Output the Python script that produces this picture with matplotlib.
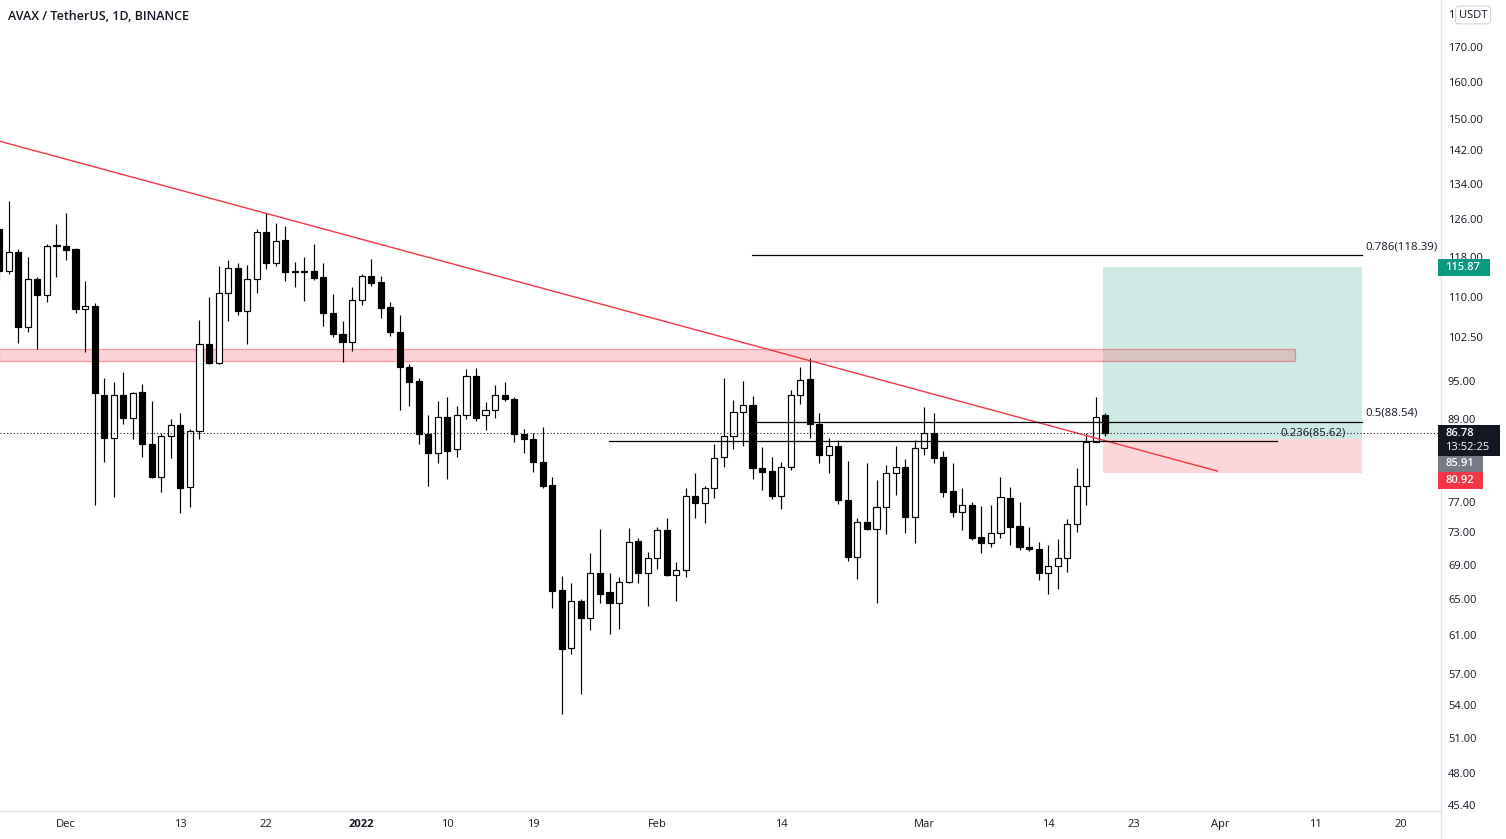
import numpy as np
import matplotlib
matplotlib.use('Agg')
import matplotlib.pyplot as plt
from matplotlib.ticker import FixedLocator, FixedFormatter, NullLocator
from matplotlib.patches import Rectangle
from matplotlib.lines import Line2D

plt.rcParams['font.family'] = ['Open Sans', 'DejaVu Sans']

# ---------------- data ----------------
first_day = '2021-11-24'
opens = [123.8, 115.1, 119.0, 104.3, 113.5, 110.3, 120.2, 120.2, 119.6, 107.7,
         108.3, 92.8, 86.1, 92.8, 89.1, 93.2, 85.2, 80.4, 86.3, 88.0,
         79.0, 87.1, 101.3, 98.1, 110.7, 115.7, 107.3, 113.5, 123.2, 116.7,
         121.5, 114.9, 115.0, 115.1, 113.9, 107.0, 103.2, 101.7, 109.4, 114.1,
         112.9, 108.1, 103.4, 97.4, 95.0, 86.6, 83.8, 89.3, 84.4, 89.6,
         95.9, 89.6, 90.3, 92.8, 92.1, 86.6, 85.9, 82.5, 79.3, 66.0,
         59.7, 64.8, 62.9, 68.0, 65.8, 64.6, 67.0, 71.9, 68.0, 69.8,
         73.3, 67.8, 68.4, 77.8, 76.8, 78.9, 83.3, 86.3, 90.0, 91.1,
         81.7, 81.3, 77.8, 81.8, 92.8, 95.4, 88.1, 83.5, 84.8, 77.2,
         69.9, 74.3, 73.4, 76.3, 81.0, 81.8, 75.0, 84.5, 86.8, 83.3,
         78.5, 75.6, 76.6, 72.4, 71.6, 72.9, 77.5, 73.8, 71.2, 70.9,
         68.0, 68.9, 69.8, 74.1, 79.2, 85.5, 89.6]
highs = [124.5, 130.0, 119.6, 117.9, 113.9, 120.6, 124.8, 127.4, 119.8, 113.1,
         108.8, 95.5, 94.9, 96.6, 93.2, 94.5, 91.7, 86.8, 89.0, 89.8,
         87.4, 105.7, 109.9, 116.1, 117.3, 116.7, 116.3, 123.8, 127.4, 125.1,
         124.4, 116.9, 117.9, 120.6, 116.7, 110.5, 105.4, 111.9, 114.5, 117.5,
         114.1, 109.0, 106.6, 97.9, 95.5, 89.6, 91.7, 92.4, 90.9, 97.1,
         97.2, 91.6, 94.4, 94.9, 92.4, 87.4, 86.8, 87.7, 80.4, 67.6,
         66.8, 65.0, 70.4, 73.4, 68.0, 67.5, 73.5, 72.3, 70.5, 73.7,
         74.8, 69.3, 78.8, 81.0, 79.2, 85.2, 95.5, 91.9, 95.0, 92.6,
         84.7, 83.3, 82.5, 93.5, 97.4, 98.9, 89.8, 86.1, 85.7, 82.7,
         74.8, 82.4, 80.0, 82.1, 84.8, 83.0, 85.7, 90.8, 89.8, 84.1,
         82.3, 78.8, 76.9, 76.4, 76.5, 80.4, 79.0, 76.9, 73.7, 71.8,
         71.4, 72.1, 74.7, 81.7, 86.8, 92.4, 89.9]
lows = [113.0, 114.4, 101.6, 103.4, 100.5, 109.0, 113.9, 117.3, 107.0, 99.9,
        76.6, 82.5, 77.6, 88.1, 85.9, 83.3, 80.3, 78.3, 83.1, 75.5,
        76.3, 85.9, 97.9, 97.9, 105.5, 106.6, 101.3, 110.7, 115.5, 116.1,
        113.1, 111.9, 109.2, 113.3, 104.5, 102.5, 98.2, 100.1, 108.4, 112.1,
        106.1, 102.8, 90.3, 90.9, 85.1, 79.2, 82.4, 80.1, 83.3, 89.0,
        88.6, 87.2, 89.1, 91.7, 85.4, 83.8, 81.1, 78.8, 64.0, 53.2,
        59.1, 55.1, 61.6, 64.5, 61.2, 61.7, 66.8, 66.8, 64.2, 68.5,
        67.6, 64.8, 67.5, 74.8, 74.2, 77.5, 81.8, 84.4, 84.8, 80.1,
        78.6, 77.4, 76.0, 81.4, 91.3, 86.1, 82.4, 81.0, 76.7, 69.4,
        67.3, 73.3, 64.5, 72.8, 77.9, 72.9, 71.6, 83.5, 82.4, 77.6,
        75.0, 73.3, 72.0, 70.4, 71.2, 72.3, 71.4, 70.8, 70.7, 67.2,
        65.6, 66.1, 68.1, 73.0, 76.6, 85.4, 86.3]
closes = [115.1, 119.0, 104.3, 113.5, 110.3, 120.2, 120.4, 119.4, 107.7, 108.3,
          93.0, 86.1, 92.8, 89.1, 93.0, 85.2, 80.4, 86.3, 88.0, 78.9,
          87.1, 101.3, 98.1, 110.7, 115.7, 107.3, 113.5, 123.2, 116.7, 121.3,
          114.9, 115.0, 114.9, 113.7, 107.0, 103.2, 101.7, 109.4, 114.1, 112.7,
          107.9, 103.4, 97.4, 94.9, 86.6, 83.8, 89.3, 84.1, 89.6, 95.9,
          89.1, 90.3, 92.8, 92.1, 86.6, 85.9, 82.5, 79.2, 65.9, 59.6,
          64.8, 62.9, 68.0, 65.6, 64.6, 67.0, 71.8, 68.0, 69.8, 73.3,
          67.8, 68.4, 77.8, 76.8, 78.9, 83.1, 86.3, 90.0, 91.1, 81.7,
          81.1, 77.8, 81.8, 92.8, 95.2, 88.1, 83.5, 84.8, 77.2, 69.9,
          74.3, 73.4, 76.3, 81.0, 81.8, 75.0, 84.5, 86.8, 83.1, 78.3,
          75.6, 76.5, 72.3, 71.6, 72.9, 77.6, 73.7, 71.1, 70.9, 68.0,
          68.9, 69.8, 74.1, 79.2, 85.5, 89.3, 86.78]

xtick_days = [7, 19, 28, 38, 47, 56, 69, 82, 97, 110, 119, 128, 138, 147]
xtick_labels = ['Dec', '13', '22', '2022', '10', '19', 'Feb', '14', 'Mar',
                '14', '23', 'Apr', '11', '20']
ytick_values = [180, 170, 160, 150, 142, 134, 126, 118, 110, 102.5, 95, 89,
                77, 73, 69, 65, 61, 57, 54, 51, 48, 45.4]
ytick_labels = ['1'] + [f'{v:.2f}' for v in ytick_values[1:]]  # top one hidden behind currency badge

trend_x = [0, 127.8]
trend_y = [144.3, 81.2]
zone_x = [0, 135.9]
zone_prices = [98.4, 100.5]
fib_ratios = ['0.786', '0.5', '0.236']
fib_levels = [118.39, 88.54, 85.62]
fib_x0 = [78.9, 78.9, 63.9]
fib_x1 = [142.9, 142.9, 134.0]
pos_x = [115.8, 142.9]
entry_price = 85.91
target_price = 115.87
stop_price = 80.92
last_price = 86.78
countdown = '13:52:25'

# ---------------- figure ----------------
W, H = 1506, 839
fig = plt.figure(figsize=(W / 100, H / 100), dpi=100)
ax_left, ax_right, ax_bottom = 0, 1441, 811
ax = fig.add_axes([ax_left / W, (H - ax_bottom) / H, (ax_right - ax_left) / W, ax_bottom / H])
ax.set_yscale('log')

TXT = '#131722'
idx = np.arange(len(opens))
o = np.array(opens)
c = np.array(closes)
hi = np.array(highs)
lo = np.array(lows)
up = c >= o
bottom = np.minimum(o, c)
height = np.maximum(np.abs(c - o), 0.08)

ax.vlines(idx, lo, hi, color='black', lw=0.85, zorder=2)
ax.bar(idx[up], height[up], bottom=bottom[up], width=0.64, facecolor='white',
       edgecolor='black', lw=0.85, zorder=3)
ax.bar(idx[~up], height[~up], bottom=bottom[~up], width=0.64, facecolor='black',
       edgecolor='black', lw=0.85, zorder=3)

# long position tool
ax.add_patch(Rectangle((pos_x[0], entry_price), pos_x[1] - pos_x[0], target_price - entry_price,
                       facecolor='#089981', alpha=0.2, lw=0, zorder=1))
ax.add_patch(Rectangle((pos_x[0], stop_price), pos_x[1] - pos_x[0], entry_price - stop_price,
                       facecolor='#F23645', alpha=0.2, lw=0, zorder=1))

# resistance zone
ax.add_patch(Rectangle((zone_x[0], zone_prices[0]), zone_x[1] - zone_x[0], zone_prices[1] - zone_prices[0],
                       facecolor=(0.949, 0.212, 0.271, 0.22), edgecolor=(0.949, 0.212, 0.271, 0.45),
                       lw=0.9, zorder=1.5))

# trend line
ax.plot(trend_x, trend_y, color='#F23645', lw=1.0, zorder=4, solid_capstyle='butt')

# fib levels
for r, lvl, x0, x1 in zip(fib_ratios, fib_levels, fib_x0, fib_x1):
    ax.plot([x0, x1], [lvl, lvl], color='black', lw=0.9, zorder=4)
    ax.annotate(f'{r}({lvl:.2f})', xy=(x1, lvl), xytext=(2.5, 5.8), textcoords='offset points',
                ha='left', va='center', fontsize=8.2, color=TXT, zorder=5, annotation_clip=False)

# last price dotted line
ax.axhline(last_price, color='#131722', lw=0.8, ls=(0, (1, 2)), zorder=4)

ax.set_xlim(0.08, 151.2)
ax.set_ylim(44.93, 184.5)

ax.xaxis.set_major_locator(FixedLocator(xtick_days))
ax.xaxis.set_major_formatter(FixedFormatter(xtick_labels))
ax.yaxis.set_major_locator(FixedLocator(ytick_values))
ax.yaxis.set_major_formatter(FixedFormatter(ytick_labels))
ax.yaxis.set_minor_locator(NullLocator())
ax.xaxis.set_minor_locator(NullLocator())
ax.yaxis.tick_right()
ax.tick_params(axis='y', length=0, pad=5, labelsize=8, labelcolor=TXT)
ax.tick_params(axis='x', length=0, pad=6, labelsize=8, labelcolor=TXT)
for lab in ax.get_xticklabels():
    if lab.get_text() == '2022':
        lab.set_fontweight('bold')

for s in ['top', 'left']:
    ax.spines[s].set_visible(False)
ax.spines['right'].set_color('#e0e3eb')
ax.spines['bottom'].set_color('#e0e3eb')
ax.spines['right'].set_linewidth(1)
ax.spines['bottom'].set_linewidth(1)

fig.add_artist(Line2D([ax_right / W] * 2, [0, (H - ax_bottom) / H], color='#e0e3eb', lw=1))


def px_rect(x0, y0, x1, y1, color):
    fig.add_artist(Rectangle((x0 / W, 1 - y1 / H), (x1 - x0) / W, (y1 - y0) / H,
                             transform=fig.transFigure, facecolor=color, edgecolor='none', zorder=10))


def px_text(x, y, s, **kw):
    fig.text(x / W, 1 - y / H, s, zorder=11, **kw)


# axis price labels
px_rect(1438, 259, 1490, 276, '#089981')
px_text(1445, 267.5, f'{target_price:.2f}', ha='left', va='center', fontsize=8, color='white', fontweight='semibold')
px_rect(1438, 425, 1500, 456, '#131722')
px_text(1445, 433, f'{last_price:.2f}', ha='left', va='center', fontsize=8, color='white', fontweight='semibold')
px_text(1445, 448, countdown, ha='left', va='center', fontsize=8, color='white')
px_rect(1438, 456, 1483, 472, '#787B86')
px_text(1445, 464, f'{entry_price:.2f}', ha='left', va='center', fontsize=8, color='white', fontweight='semibold')
px_rect(1438, 472, 1483, 489, '#F23645')
px_text(1445, 480.5, f'{stop_price:.2f}', ha='left', va='center', fontsize=8, color='white', fontweight='semibold')

# currency badge
px_text(1473, 15, 'USDT', ha='center', va='center', fontsize=8, color=TXT,
        bbox=dict(boxstyle='round,pad=0.3,rounding_size=0.3', fc='white', ec='#d1d4dc', lw=0.8))

# title
px_text(8, 16, 'AVAX / TetherUS, 1D, BINANCE', ha='left', va='center', fontsize=9,
        color=TXT, fontweight='semibold')

fig.savefig('out.png', dpi=100, facecolor='white')
